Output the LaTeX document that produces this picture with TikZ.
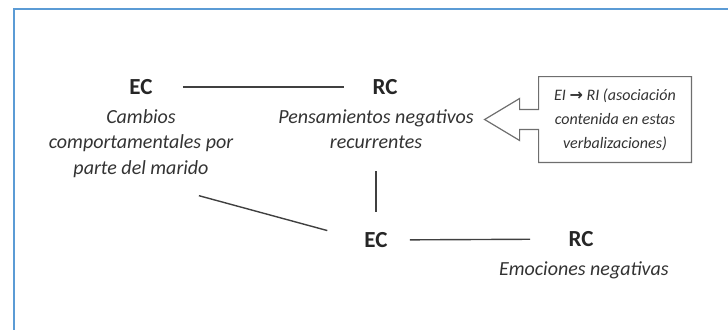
\documentclass[tikz,border=0pt]{standalone}
\usepackage{fontspec}
\setmainfont{Carlito}
\newfontfamily\arrowfont{DejaVu Sans}
\usetikzlibrary{positioning, calc}
\definecolor{FrameBlue}{HTML}{5B9BD5}
\definecolor{LinkGray}{HTML}{404040}
\definecolor{NoteGray}{HTML}{6E6E6E}

\begin{document}
\begin{tikzpicture}[x=0.5pt, y=-0.5pt,
    term/.style={font=\bfseries\fontsize{11.5}{13}\selectfont, inner sep=1pt, text=black!85},
    desc/.style={font=\itshape\fontsize{10}{12.75}\selectfont, align=center, inner sep=1pt, text=black!80},
    link/.style={LinkGray, line width=0.7pt},
    notebox/.style={NoteGray, line width=0.6pt},
  ]
    \useasboundingbox (0,0) rectangle (728,329);
    % frame of the figure
    \draw[FrameBlue, line width=1pt] (13.5,345) |- (745,8.5);

    % first pair
    \node[term] (ec1) at (141,87) {EC};
    \node[desc, below=5pt of ec1] (ec1txt) {Cambios\\comportamentales por\\parte del marido};
    \node[term] (rc1) at (385,87) {RC};
    \node[desc, below=5pt of rc1, xshift=-4.5pt] (rc1txt) {Pensamientos negativos\\recurrentes};

    % second pair
    \node[term] (ec2) at (376,240) {EC};
    \node[term] (rc2) at (581,239) {RC};
    \node[desc, below=5pt of rc2, xshift=1.5pt] (rc2txt) {Emociones negativas};

    % callout
    \node[desc, font=\itshape\fontsize{8}{12}\selectfont, minimum width=76pt, minimum height=42.5pt] (note) at (615,119.5)
      {EI {\arrowfont\bfseries →} RI (asociación\\contenida en estas\\verbalizaciones)};
    \draw[notebox] (note.north west) -- (note.north east) -- (note.south east) -- (note.south west)
      -- ($(note.west)+(0,10)$) -- ($(note.west)+(-19,10)$) -- ($(note.west)+(-19,21)$)
      -- ($(note.west)+(-54,0)$)
      -- ($(note.west)+(-19,-21)$) -- ($(note.west)+(-19,-10)$) -- ($(note.west)+(0,-10)$) -- cycle;

    \draw[link, shorten <=14pt, shorten >=13pt] (ec1) -- (rc1);
    \draw[link, shorten <=10pt, shorten >=8.75pt] (rc1txt) -- (ec2);
    \draw[link, shorten <=10pt, shorten >=18pt] (ec2) -- (rc2);
    \draw[link, shorten <=30pt, shorten >=18pt] (ec1txt.south) -- (ec2.west);
\end{tikzpicture}
\end{document}
